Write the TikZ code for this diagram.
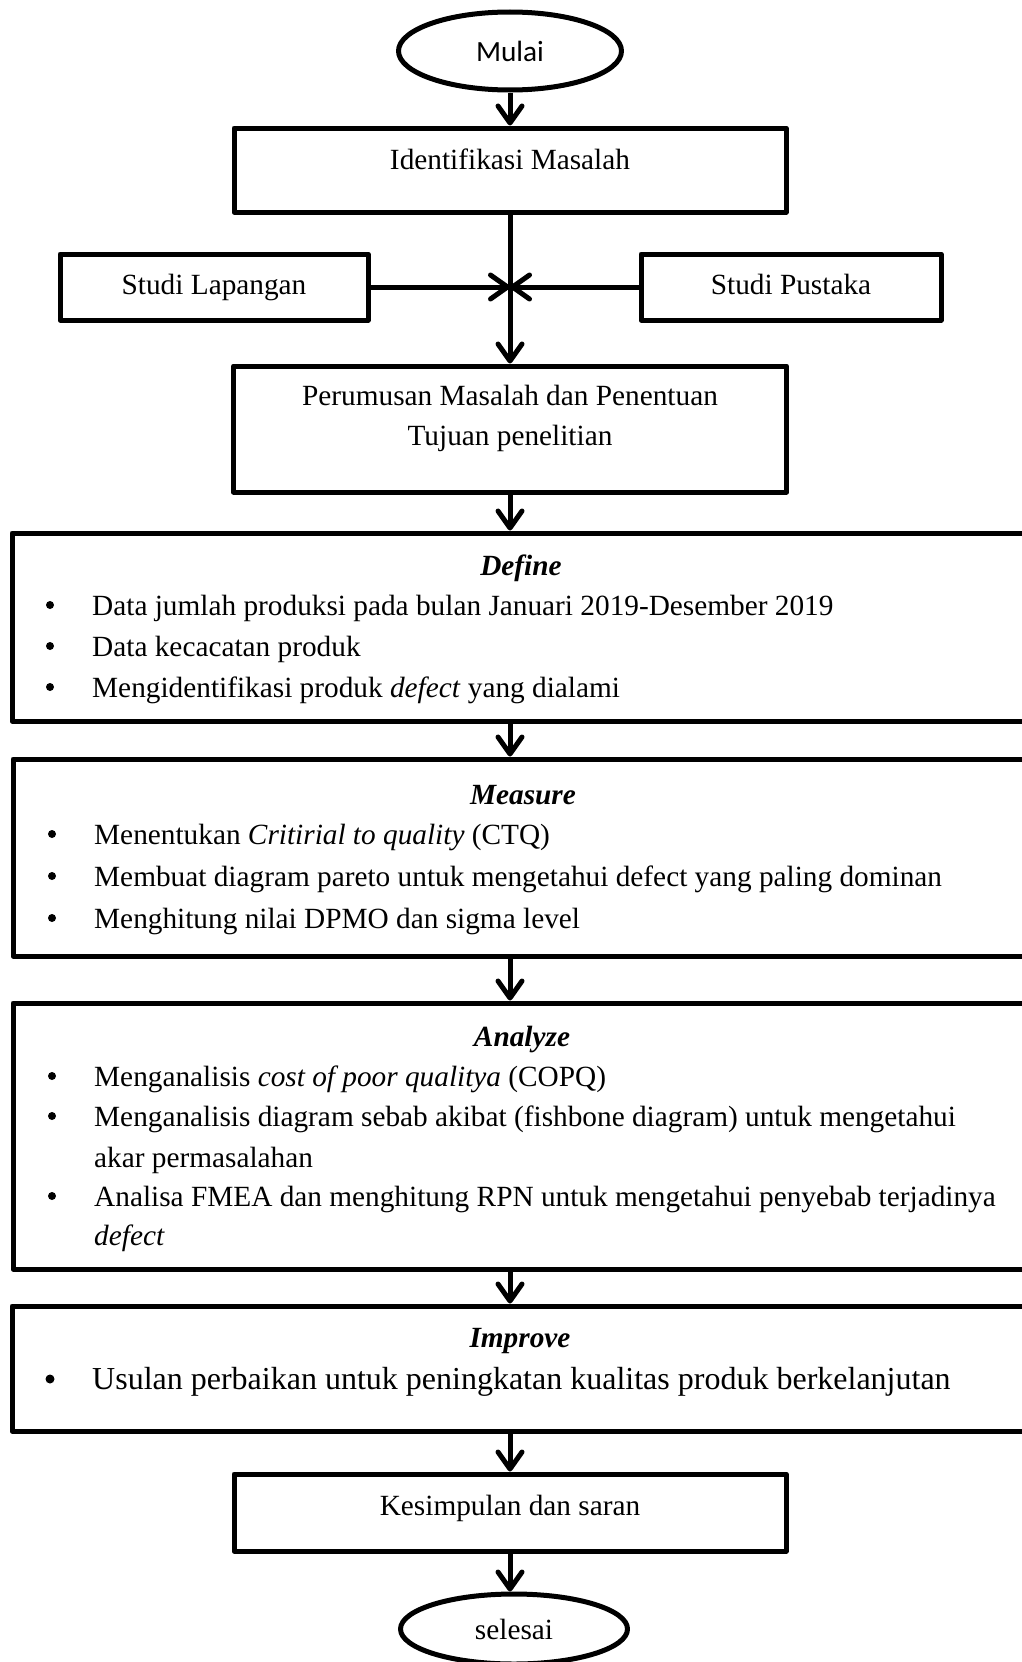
\documentclass[tikz,border=0pt]{standalone}
\usepackage{fontspec}
\setmainfont{Liberation Serif}
\newfontfamily\calibri{Carlito}
\usetikzlibrary{shapes.geometric,arrows.meta}

\begin{document}
\begin{tikzpicture}[x=1pt,y=-1pt,font=\fontsize{29.3}{40}\selectfont,line join=round,
  kotak/.style={draw,line width=5pt,rectangle,inner sep=0pt,text height=20pt,text depth=6pt},
  fase/.style={draw,line width=5pt,rectangle,inner sep=0pt,minimum width=1028pt},
  lonjong/.style={draw,line width=5pt,ellipse,inner sep=0pt},
  teks/.style={inner sep=0pt,text height=20pt,text depth=6pt,yshift=-3pt},
  panah/.style={line width=5pt,-{Straight Barb[length=17pt,width=24pt,round]}}]
\useasboundingbox (0,0) rectangle (1022,1662);

\node[lonjong,minimum width=223pt,minimum height=78pt,font=\calibri\fontsize{29.3}{40}\selectfont] (mulai) at (510,51) {Mulai};
\node[kotak,minimum width=552pt,minimum height=84pt] (identifikasi) at (510,170) {};
\node[teks] (t-identifikasi) at (510,159) {Identifikasi Masalah};
\node[kotak,minimum width=308pt,minimum height=66pt] (lapangan) at (214,287) {Studi Lapangan};
\node[kotak,minimum width=300pt,minimum height=66pt] (pustaka) at (791,287) {Studi Pustaka};
\node[kotak,minimum width=553pt,minimum height=126pt] (perumusan) at (510,429) {};
\node[teks] (t-perumusan1) at (510,395) {Perumusan Masalah dan Penentuan};
\node[teks] (t-perumusan2) at (510,435) {Tujuan penelitian};

\node[fase,minimum height=188pt] (define) at (526,627) {};
\node[fase,minimum height=197pt] (measure) at (527,857.5) {};
\node[fase,minimum height=266pt] (analyze) at (527,1136) {};
\node[fase,minimum height=125pt] (improve) at (526,1368.5) {};
\foreach \x/\y/\m in {521/565/Define,523/794/Measure,522/1036/Analyze,520/1337/Improve}
  \node[teks,font=\fontsize{29.3}{40}\selectfont\bfseries\itshape] (j\m) at (\x,\y) {\m};

\foreach \x/\y/\m in {92/605/{Data jumlah produksi pada bulan Januari 2019-Desember 2019},
  92/646/{Data kecacatan produk},
  92/687/{Mengidentifikasi produk \textit{defect} yang dialami},
  94/834/{Menentukan \textit{Critirial to quality} (CTQ)},
  94/876/{Membuat diagram pareto untuk mengetahui defect yang paling dominan},
  94/918/{Menghitung nilai DPMO dan sigma level},
  94/1076/{Menganalisis \textit{cost of poor qualitya} (COPQ)},
  94/1116/{Menganalisis diagram sebab akibat (fishbone diagram) untuk mengetahui},
  94/1196/{Analisa FMEA dan menghitung RPN untuk mengetahui penyebab terjadinya}}
  {\fill (\x-42,\y) circle (4pt);
   \node[teks,anchor=west] (b\y) at (\x,\y) {\m};}
\foreach \x/\y/\m in {94/1157/{akar permasalahan},94/1235/{\textit{defect}}}
  \node[teks,anchor=west] (b\y) at (\x,\y) {\m};
\fill (50,1379) circle (4.5pt);
\node[teks,anchor=west,font=\fontsize{32}{40}\selectfont] (b1379) at (92,1379) {Usulan perbaikan untuk peningkatan kualitas produk berkelanjutan};

\node[kotak,minimum width=552pt,minimum height=77pt] (kesimpulan) at (510,1512.5) {};
\node[teks] (t-kesimpulan) at (510,1505) {Kesimpulan dan saran};
\node[lonjong,minimum width=227pt,minimum height=70pt] (selesai) at (514,1629) {selesai};

\coordinate (temu) at (identifikasi.south |- lapangan.east);
\draw[panah] (mulai.south) -- (identifikasi.north);
\draw[panah] (identifikasi.south) -- (perumusan.north);
\draw[panah] (lapangan.east) -- (temu);
\draw[panah] (pustaka.west) -- (temu);
\draw[panah] (perumusan.south) -- (perumusan.south |- define.north);
\draw[panah] (define.south -| perumusan.south) -- (measure.north -| perumusan.south);
\draw[panah] (measure.south -| perumusan.south) -- (analyze.north -| perumusan.south);
\draw[panah] (analyze.south -| perumusan.south) -- (improve.north -| perumusan.south);
\draw[panah] (improve.south -| kesimpulan.south) -- (kesimpulan.north);
\draw[panah] (kesimpulan.south) -- (kesimpulan.south |- selesai.north);
\end{tikzpicture}
\end{document}
